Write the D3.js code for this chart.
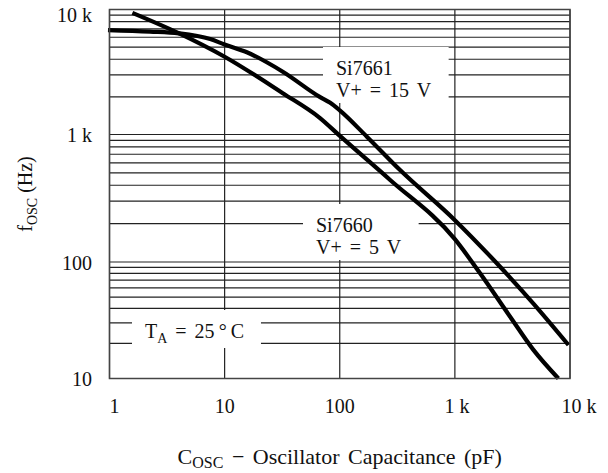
<!DOCTYPE html>
<html>
<head>
<meta charset="utf-8">
<script src="https://cdn.jsdelivr.net/npm/d3@7"></script>
<style>
  body { margin: 0; background: #fff; }
  text { font-family: "Liberation Serif", "Times New Roman", serif; fill: #111; }
</style>
</head>
<body>
<svg id="chart"></svg>
<script>
// tick values and labels
var capTicks = [1, 10, 100, 1000, 10000];
var capLabels = ["1", "10", "100", "1 k", "10 k"];
var freqTicks = [10, 100, 1000, 10000];
var freqLabels = ["10", "100", "1 k", "10 k"];

// curves (C in pF, f in Hz)
var si7661Cap  = [0.97, 2.25, 4, 7.5, 10, 15.6, 32, 67, 82, 100, 172, 334, 1000, 2470, 4810, 9700];
var si7661Freq = [6850, 6660, 6450, 5800, 5250, 4550, 3180, 2000, 1800, 1560, 962, 526, 213, 91, 44, 19.4];
var si7660Cap  = [1.58, 3.94, 10, 32, 67, 102, 274, 1000, 1655, 3020, 4810, 7930];
var si7660Freq = [9400, 6500, 4190, 2140, 1360, 962, 440, 151, 80, 33.9, 17.6, 10];

var width = 608, height = 473;

var svg = d3.select('#chart')
	.attr('width', width)
	.attr('height', height);

var x = d3.scaleLog()
	.domain([1, 10000])
	.range([109.5, 570]);

// the scanned decades are not quite even, so map each one
var y = d3.scaleLog()
	.domain([10, 100, 1000, 10000])
	.range([378.5, 262, 134.5, 9.5]);

/* grid */
var grid = svg.append('g');

grid.selectAll('.hgrid')
	.data(y.ticks())
	.enter().append('line')
	.attr('class', 'hgrid')
	.attr('x1', x(1)).attr('x2', x(10000))
	.attr('y1', function(d) { return y(d); })
	.attr('y2', function(d) { return y(d); })
	.attr('stroke', '#222')
	.attr('stroke-width', 1.2);

grid.selectAll('.vgrid')
	.data(capTicks)
	.enter().append('line')
	.attr('class', 'vgrid')
	.attr('x1', function(d) { return x(d); })
	.attr('x2', function(d) { return x(d); })
	.attr('y1', y(10)).attr('y2', y(10000))
	.attr('stroke', '#222')
	.attr('stroke-width', 1.2);

/* annotations: white boxes go under the curves, text above */
var boxes = svg.append('g');
var curves = svg.append('g');
var notes = svg.append('g');

function addNote(lines, px, py, sub) {
	var g = notes.append('g');
	lines.forEach(function(l, i) {
		var t = g.append('text')
			.attr('x', px)
			.attr('y', py + i * 22)
			.style('font-size', '20px')
			.style('word-spacing', '3px');
		if (sub) {
			t.append('tspan').text(l[0]);
			t.append('tspan').text(l[1]).attr('dy', 5).style('font-size', '14px');
			t.append('tspan').text(l[2]).attr('dy', -5);
		} else {
			t.text(l);
		}
	});
	var b = g.node().getBBox();
	boxes.append('rect')
		.attr('fill', '#fff')
		.attr('x', b.x - 13)
		.attr('y', b.y - 10)
		.attr('width', b.width + 30)
		.attr('height', b.height + 12);
}

addNote(['Si7661', 'V+ = 15 V'], 336, 75);
addNote(['Si7660', 'V+ = 5 V'], 316, 232);
addNote([['T', 'A', ' = 25\u2009\u00b0\u2009C']], 145, 338, true);

/* curves */
var line = d3.line()
	.x(function(d) { return x(d[0]); })
	.y(function(d) { return y(d[1]); })
	.curve(d3.curveMonotoneX);

curves.append('path')
	.datum(d3.zip(si7661Cap, si7661Freq))
	.attr('d', line)
	.attr('fill', 'none')
	.attr('stroke', '#000')
	.attr('stroke-width', 4.2);

curves.append('path')
	.datum(d3.zip(si7660Cap, si7660Freq))
	.attr('d', line)
	.attr('fill', 'none')
	.attr('stroke', '#000')
	.attr('stroke-width', 4.2);

/* frame */
svg.append('rect')
	.attr('x', x(1)).attr('y', y(10000))
	.attr('width', x(10000) - x(1))
	.attr('height', y(10) - y(10000))
	.attr('fill', 'none')
	.attr('stroke', '#444')
	.attr('stroke-width', 1.5);

/* tick labels */
svg.selectAll('.xlab')
	.data(capTicks)
	.enter().append('text')
	.attr('class', 'xlab')
	.attr('x', function(d, i) {
		var shift = i == 0 ? 5 : (i == capTicks.length - 1 ? 9 : (i == 3 ? 2 : 0));
		return x(d) + shift;
	})
	.attr('y', 412.5)
	.attr('text-anchor', 'middle')
	.style('font-size', '20px')
	.text(function(d, i) { return capLabels[i]; });

svg.selectAll('.ylab')
	.data(freqTicks)
	.enter().append('text')
	.attr('class', 'ylab')
	.attr('x', 92)
	.attr('y', function(d) { return Math.max(y(d) + 7.5, 21.7); })
	.attr('text-anchor', 'end')
	.style('font-size', '20px')
	.text(function(d, i) { return freqLabels[i]; });

/* axis titles */
var xt = svg.append('text')
	.attr('x', x(100))
	.attr('y', 464)
	.attr('text-anchor', 'middle')
	.style('font-size', '22px')
	.style('word-spacing', '3px');
xt.append('tspan').text('C');
xt.append('tspan').text('OSC').attr('dy', 4).style('font-size', '16px');
xt.append('tspan').text(' \u2212 Oscillator Capacitance (pF)').attr('dy', -4);

var yt = svg.append('text')
	.attr('transform', 'translate(32,194) rotate(-90)')
	.attr('text-anchor', 'middle')
	.style('font-size', '20px');
yt.append('tspan').text('f');
yt.append('tspan').text('OSC').attr('dy', 5).style('font-size', '14px');
yt.append('tspan').text(' (Hz)').attr('dy', -5);
</script>
</body>
</html>
